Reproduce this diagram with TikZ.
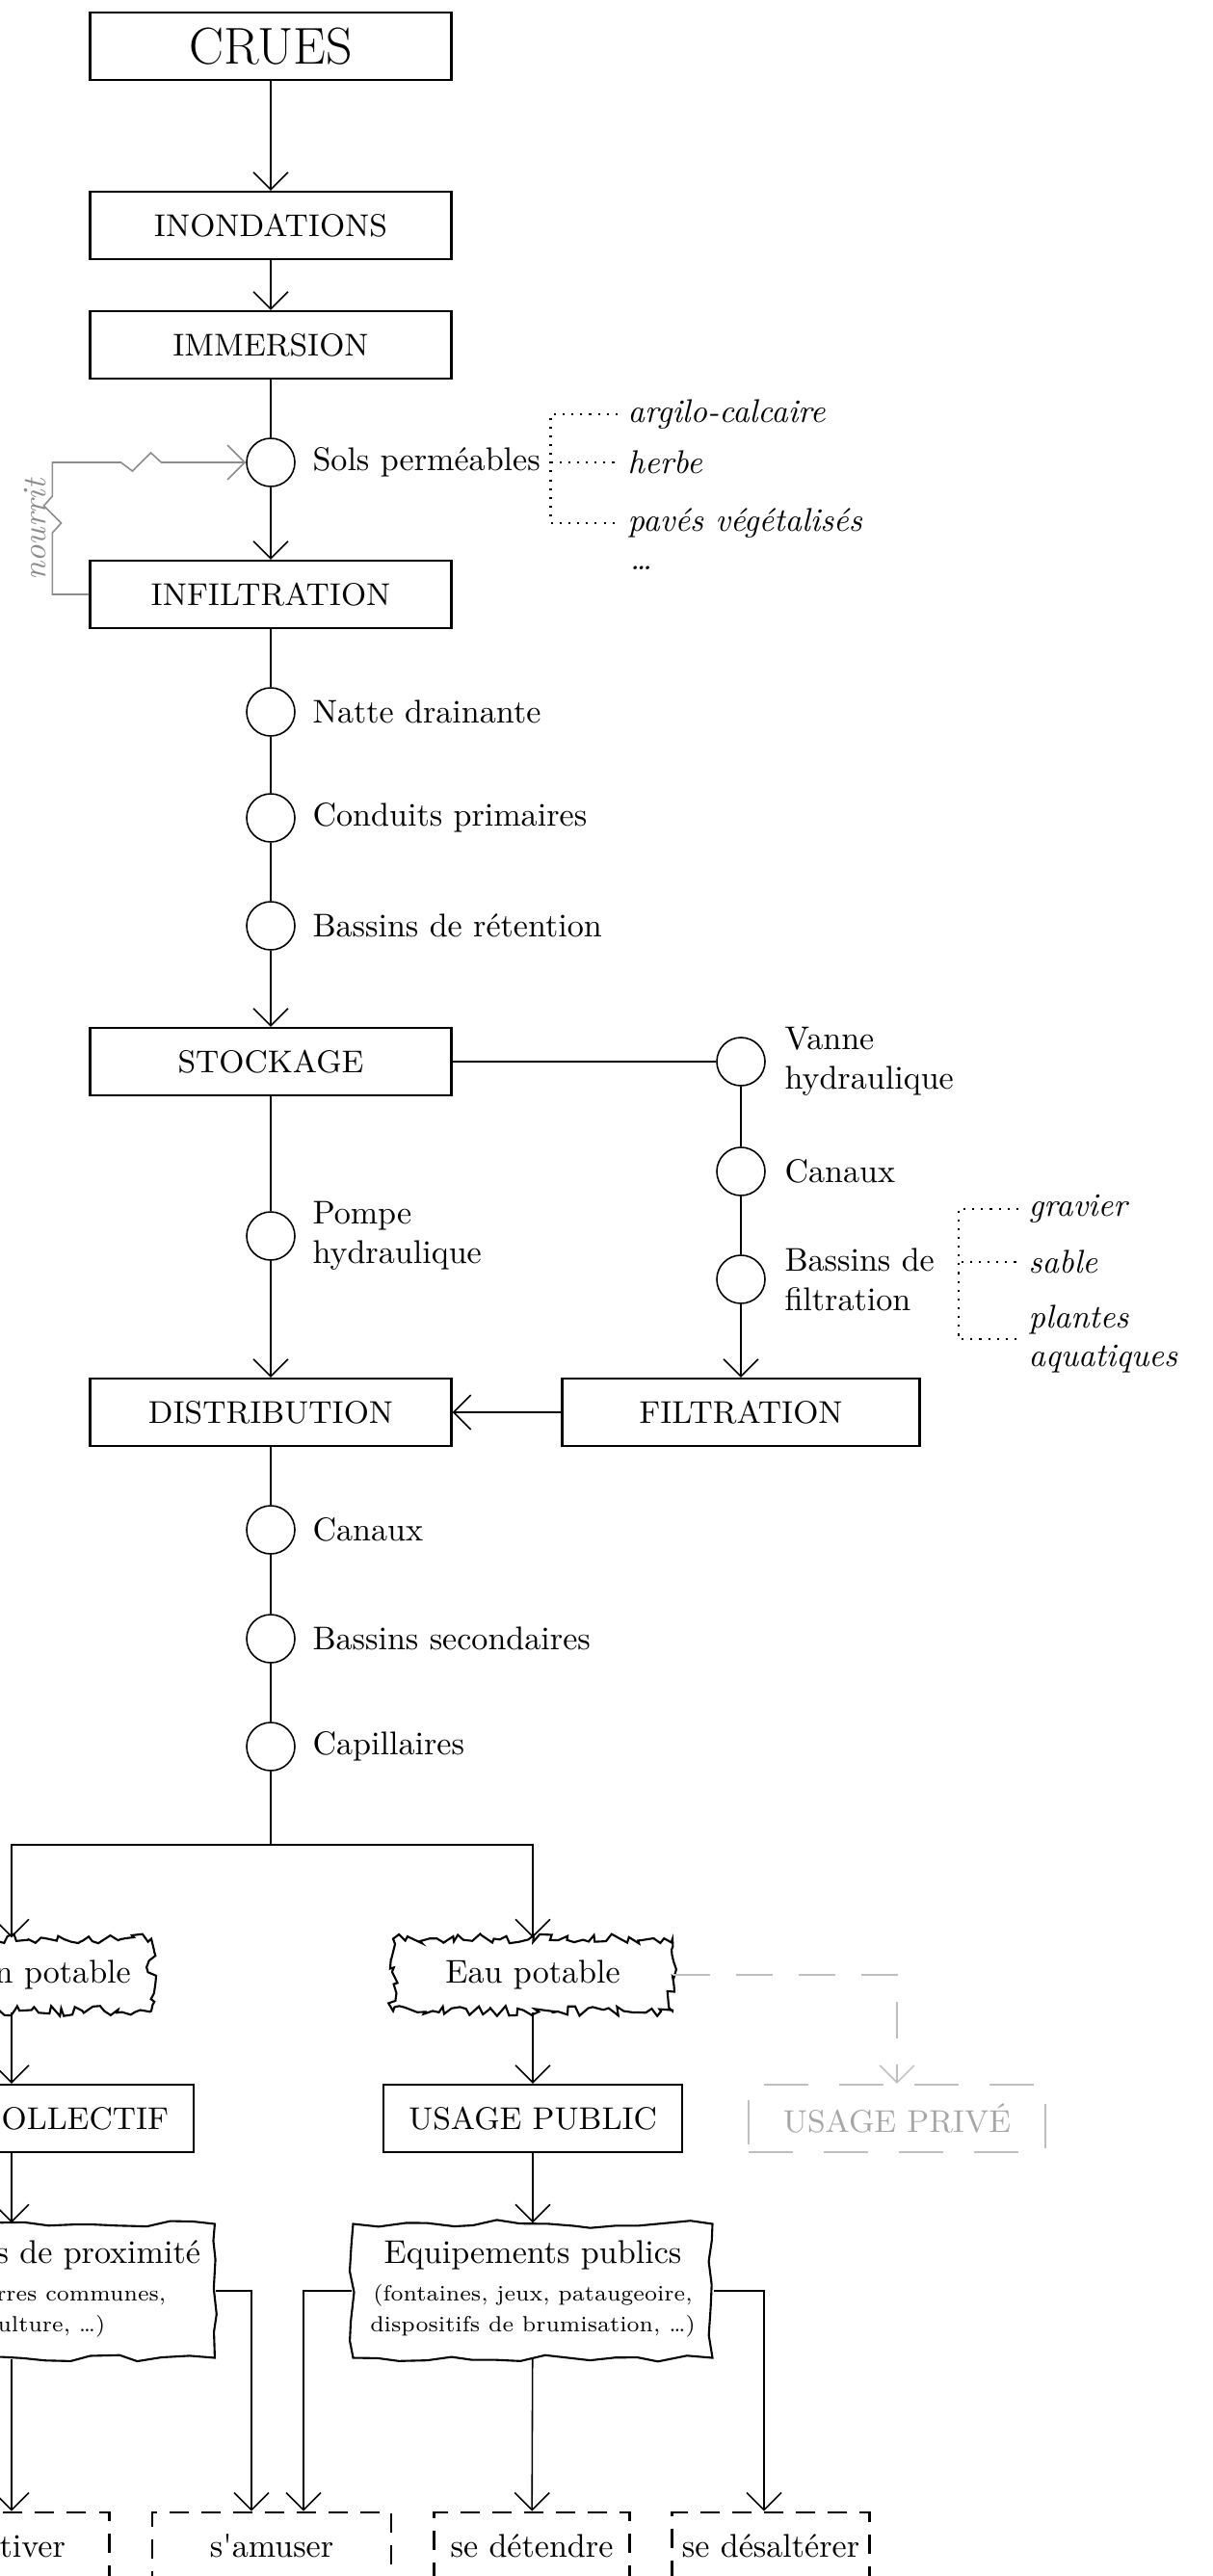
\documentclass[tikz,border=0pt]{standalone}
\usepackage{fontspec}
\usetikzlibrary{positioning,arrows.meta,decorations.pathmorphing}
\newcommand\petit{\fontsize{6.5}{8.4}\selectfont}

\begin{document}
\begin{tikzpicture}[
  every node/.style={font=\fontsize{9.7}{11.6}\selectfont},
  >={Straight Barb[length=1.8mm,width=3.6mm]},
  lien/.style={line width=0.45pt},
  fleche/.style={lien,->},
  etape/.style={draw, line width=0.6pt, minimum width=3.75cm, minimum height=0.70cm,
    font=\fontsize{9.3}{11}\selectfont},
  usage/.style={etape, minimum width=3.08cm, inner xsep=0.26cm},
  fantome/.style={usage, draw=black!25, text=black!35, dash pattern=on 0.46cm off 0.32cm},
  noeud/.style={draw, circle, line width=0.45pt, minimum size=0.5cm, inner sep=0pt},
  texte/.style={anchor=west, align=left, inner sep=0.1cm},
  detail/.style={texte, font=\itshape\fontsize{9.7}{11.6}\selectfont},
  pointilles/.style={dotted, line width=0.6pt},
  gris/.style={lien, draw=black!45},
  eau/.style={draw, line width=0.6pt, minimum width=2.9cm, minimum height=0.75cm,
    decorate, decoration={random steps, segment length=1.6pt, amplitude=1.5pt}},
  equip/.style={draw, line width=0.6pt, minimum height=1.39cm, inner xsep=0.15cm,
    decorate, decoration={random steps, segment length=7pt, amplitude=1.2pt}},
  action/.style={draw, line width=0.8pt, dash pattern=on 0.2cm off 0.13cm,
    minimum width=2.03cm, minimum height=0.70cm, inner sep=0.1cm}
]
\pgfmathsetseed{7}
\useasboundingbox (0,0) rectangle (12.58,-26.74);
\clip (0,0) rectangle (12.58,-26.74);

% colonne principale
\node[etape, font=\fontsize{15.3}{17}\selectfont] (crues) at (2.81,-0.48) {CRUES};
\node[etape] (inondations) at (2.81,-2.34) {INONDATIONS};
\node[etape] (immersion) at (2.81,-3.58) {IMMERSION};
\node[noeud] (sols) at (2.81,-4.80) {};
\node[etape] (infiltration) at (2.81,-6.17) {INFILTRATION};
\node[noeud] (natte) at (2.81,-7.39) {};
\node[noeud] (conduits) at (2.81,-8.49) {};
\node[noeud] (retention) at (2.81,-9.61) {};
\node[etape] (stockage) at (2.81,-11.02) {STOCKAGE};
\node[noeud] (pompe) at (2.81,-12.83) {};
\node[etape] (distribution) at (2.81,-14.66) {DISTRIBUTION};
\node[noeud] (canaux) at (2.81,-15.88) {};
\node[noeud] (secondaires) at (2.81,-17.01) {};
\node[noeud] (capillaires) at (2.81,-18.13) {};
\coordinate (fourche) at (2.81,-19.15);

\node[texte, right=0.7mm of sols] (solsl) {Sols perméables};
\node[texte, right=0.7mm of natte] (nattel) {Natte drainante};
\node[texte, right=0.7mm of conduits] (conduitsl) {Conduits primaires};
\node[texte, right=0.7mm of retention] (retentionl) {Bassins de rétention};
\node[texte, right=0.7mm of pompe] (pompel) {Pompe\\hydraulique};
\node[texte, right=0.7mm of canaux] (canauxl) {Canaux};
\node[texte, right=0.7mm of secondaires] (secondairesl) {Bassins secondaires};
\node[texte, right=0.7mm of capillaires] (capillairesl) {Capillaires};

% sols
\node[detail] (argile) at (6.41,-4.30) {argilo-calcaire};
\node[detail] (herbe) at (6.41,-4.80) {herbe};
\node[detail] (paves) at (6.41,-5.43) {pavés végétalisés};
\node[detail] (etc) at (6.43,-5.90) {\dots};
\draw[pointilles] (argile.west) -| (solsl.east) |- (paves.west);
\draw[pointilles] (solsl.east) -- (herbe.west);

% filtration
\node[noeud] (vanne) at (7.69,-11.02) {};
\node[noeud] (canal) at (7.69,-12.16) {};
\node[noeud] (filtre) at (7.69,-13.28) {};
\node[etape, minimum width=3.71cm] (filtration) at (7.69,-14.66) {FILTRATION};
\node[texte, right=0.9mm of vanne] (vannel) {Vanne\\hydraulique};
\node[texte, right=0.9mm of canal] (canall) {Canaux};
\node[texte, right=0.9mm of filtre] (filtrel) {Bassins de\\filtration};
\node[detail] (gravier) at (10.57,-12.55) {gravier};
\node[detail] (sable) at (10.57,-13.10) {sable};
\node[detail] (plantes) at (10.57,-13.90) {plantes\\aquatiques};
\coordinate (accolade) at ([xshift=1.4mm]filtrel.east);
\draw[pointilles] (gravier.west) -| (accolade) |- (plantes.west);
\draw[pointilles] ([xshift=0.3mm]accolade |- sable.west) -- (sable.west);

% usages
\node[eau] (nonpotable) at (0.12,-20.50) {Eau non potable};
\node[eau] (potable) at (5.53,-20.50) {Eau potable};
\node[usage] (collectif) at (0.12,-21.99) {USAGE COLLECTIF};
\node[usage] (public) at (5.53,-21.99) {USAGE PUBLIC};
\node[fantome] (prive) at (9.31,-21.99) {USAGE PRIVÉ};
\node[equip] (proximite) at (0.12,-23.78) {\renewcommand\arraystretch{0.785}%
  \begin{tabular}{@{}c@{}}Equipements de proximité\\[1.8pt]
  \petit(potagers, terres communes,\\ \petit permaculture, \dots)\end{tabular}};
\node[equip, minimum width=3.73cm] (publics) at (5.53,-23.78) {\renewcommand\arraystretch{0.785}%
  \begin{tabular}{@{}c@{}}Equipements publics\\[1.8pt]
  \petit(fontaines, jeux, pataugeoire,\\ \petit dispositifs de brumisation, \dots)\end{tabular}};
\node[action] (cultiver) at (0.12,-26.43) {cultiver};
\node[action, minimum width=2.48cm] (amuser) at (2.82,-26.43) {s\textquotesingle amuser};
\node[action] (detendre) at (5.52,-26.43) {se détendre};
\node[action] (desalterer) at (8.00,-26.43) {se désaltérer};

% liens
\draw[fleche] (crues) -- (inondations);
\draw[fleche] (inondations) -- (immersion);
\draw[lien] (immersion) -- (sols);
\draw[fleche] (sols) -- (infiltration);
\draw[lien] (infiltration) -- (natte) -- (conduits) -- (retention);
\draw[fleche] (retention) -- (stockage);
\draw[lien] (stockage) -- (pompe);
\draw[fleche] (pompe) -- (distribution);
\draw[lien] (stockage) -- (vanne) -- (canal) -- (filtre);
\draw[fleche] (filtre) -- (filtration);
\draw[fleche] (filtration) -- (distribution);
\draw[lien] (distribution) -- (canaux) -- (secondaires) -- (capillaires) -- (fourche);
\draw[fleche] (fourche) -| (nonpotable.north);
\draw[fleche] (fourche) -| (potable.north);
\draw[fleche] (nonpotable) -- (collectif);
\draw[fleche] (potable) -- (public);
\draw[gris, draw=black!25, dash pattern=on 0.38cm off 0.27cm, ->] (potable.east) -| (prive.north);
\draw[fleche] (collectif) -- (proximite);
\draw[fleche] (public) -- (publics);
\draw[fleche] (proximite) -- (cultiver);
\draw[fleche] (proximite.east) -| ([xshift=-0.21cm]amuser.north);
\draw[fleche] (publics.west) -| ([xshift=0.33cm]amuser.north);
\draw[fleche] (publics) -- (detendre);
\draw[fleche] (publics.east) -| ([xshift=-0.07cm]desalterer.north);

% nourrit
\draw[gris, ->] (infiltration.west) -- ++(-0.38,0) -- ++(0,0.64) -- ++(0.09,0.10) -- ++(-0.18,0.18)
  -- ++(0.09,0.10) |- ++(0.71,0.35) -- ++(0.12,-0.09) -- ++(0.19,0.19) -- ++(0.11,-0.10) -- (sols.west);
\node[rotate=90, text=black!45, font=\itshape\fontsize{9.7}{11.6}\selectfont] (nourrit) at (0.37,-5.50) {nourrit};
\end{tikzpicture}
\end{document}
